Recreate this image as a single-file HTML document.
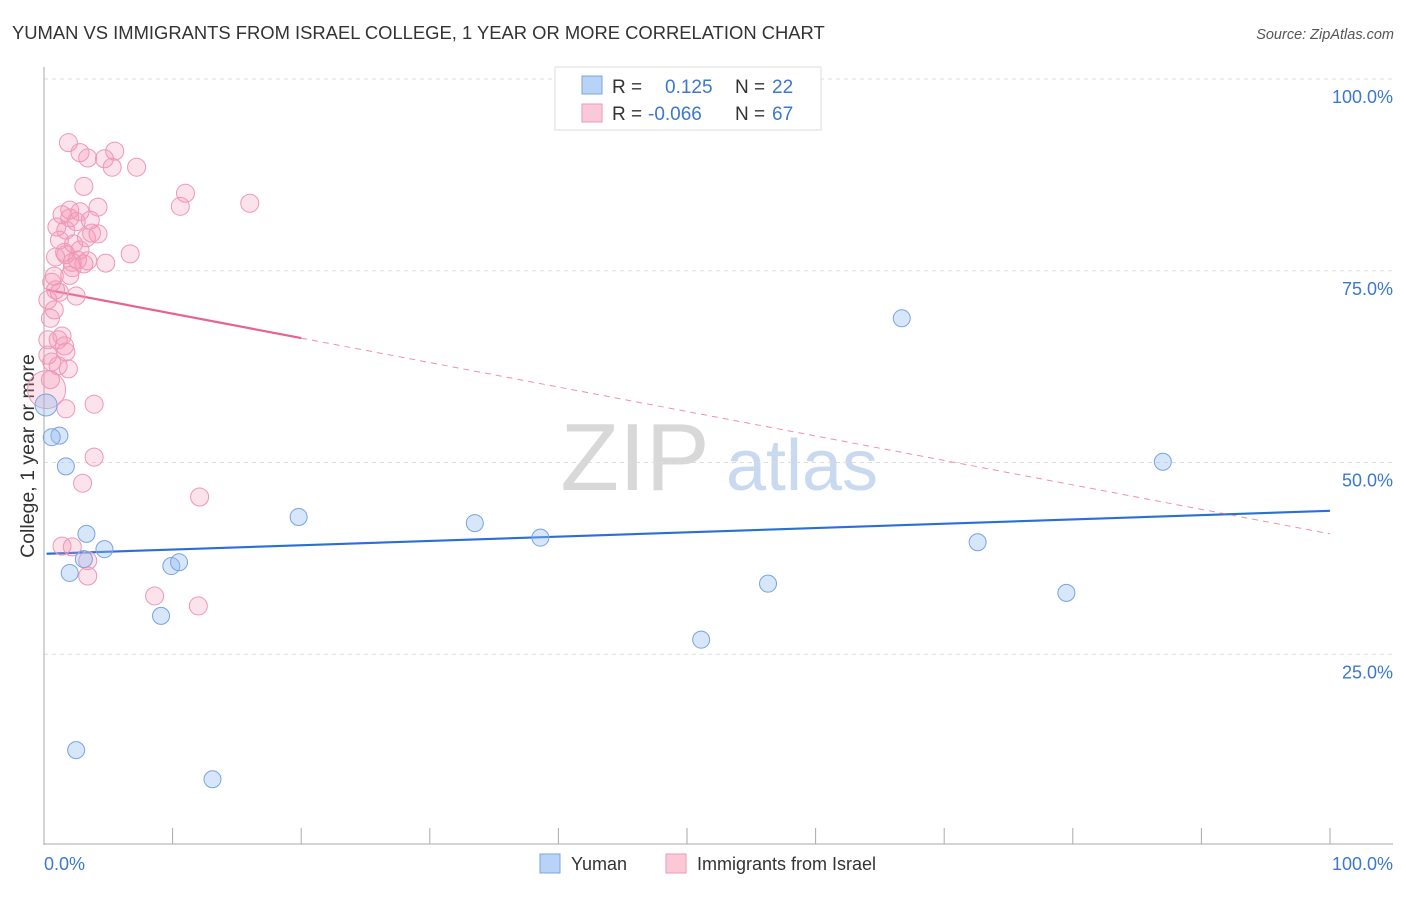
<!DOCTYPE html>
<html><head><meta charset="utf-8"><style>
body{margin:0;background:#fff;font-family:"Liberation Sans",sans-serif;}
svg text{font-family:"Liberation Sans",sans-serif;}
</style></head><body>
<svg id="c" width="1406" height="892">
<text x="12" y="39" font-size="18.4" fill="#333">YUMAN VS IMMIGRANTS FROM ISRAEL COLLEGE, 1 YEAR OR MORE CORRELATION CHART</text>
<text x="1394" y="39" font-size="14.5" fill="#555" font-style="italic" text-anchor="end">Source: ZipAtlas.com</text>
<text x="0" y="0" transform="translate(34,456) rotate(-90)" font-size="19.5" fill="#333" text-anchor="middle">College, 1 year or more</text>
<g><text x="635" y="490" font-size="96" font-family="Liberation Serif,serif" fill="#d8d8d8" text-anchor="middle">ZIP</text><text x="802" y="490" font-size="72" fill="#c9daf0" text-anchor="middle">atlas</text></g>
<g id="grid"></g><g id="axes"></g><g id="trends"></g><g id="pts"></g>
<g>
<rect x="555" y="67" width="266" height="63" fill="#fff" stroke="#ddd"/>
<rect x="582" y="76" width="20" height="18" fill="#b8d3f5" stroke="#7aa6e2"/>
<text x="612" y="93" font-size="19" fill="#333">R =</text><text x="665" y="93" font-size="19" fill="#3b78d0">0.125</text>
<text x="735" y="93" font-size="19" fill="#333">N =</text><text x="772" y="93" font-size="19" fill="#3b78d0">22</text>
<rect x="582" y="104" width="20" height="18" fill="#fbc8d8" stroke="#ee9ab6"/>
<text x="612" y="120" font-size="19" fill="#333">R =</text><text x="648" y="120" font-size="19" fill="#3b78d0">-0.066</text>
<text x="735" y="120" font-size="19" fill="#333">N =</text><text x="772" y="120" font-size="19" fill="#3b78d0">67</text>
</g>
<g>
<rect x="540" y="854" width="20" height="19" fill="#b8d3f5" stroke="#7aa6e2"/>
<text x="571" y="870" font-size="18" fill="#333">Yuman</text>
<rect x="666" y="854" width="20" height="19" fill="#fbc8d8" stroke="#ee9ab6"/>
<text x="697" y="870" font-size="18" fill="#333">Immigrants from Israel</text>
</g>
<text x="44" y="870" font-size="18" fill="#3b78d0">0.0%</text>
<text x="1393" y="870" font-size="18" fill="#3b78d0" text-anchor="end">100.0%</text>
</svg>
<script>
const yTicks=[100,75,50,25];
const yTickLabels=["100.0%","75.0%","50.0%","25.0%"];
const blueX=[0.16,1.2,1.7,3.3,4.7,2.0,3.1,9.9,10.5,9.1,19.8,33.5,38.6,66.7,87.0,72.6,56.3,79.5,51.1,2.5,13.1,0.6];
const blueY=[57.5,53.5,49.5,40.7,38.7,35.6,37.4,36.5,37.0,30.0,42.9,42.1,40.2,68.8,50.1,39.6,34.2,33.0,26.9,12.5,8.7,53.3];
const pinkX=[1.9,2.8,3.4,5.5,4.7,5.3,7.2,3.1,11.0,10.6,16.0,4.2,2.8,1.4,2.0,1.0,3.7,1.2,3.3,2.3,6.7,1.6,4.8,2.6,3.4,0.9,2.2,2.0,0.6,0.9,2.5,0.3,0.5,1.1,1.6,1.7,0.3,0.6,1.9,0.2,1.7,3.9,3.9,3.0,12.1,1.4,2.2,3.4,3.4,8.6,12.0,0.8,1.7,2.2,1.2,0.5,2.5,0.8,1.4,3.1,4.2,1.1,2.8,2.0,1.7,0.3,3.6];
const pinkY=[91.7,90.4,89.7,90.6,89.6,88.5,88.5,86.0,85.1,83.4,83.8,83.3,82.7,82.3,81.9,80.7,79.9,79.0,79.3,78.5,77.2,77.4,76.0,76.4,76.3,76.8,75.4,74.4,73.5,72.5,71.7,71.2,68.8,66.0,65.2,64.4,64.0,63.1,62.2,59.5,57.0,57.6,50.7,47.3,45.5,39.1,39.0,35.2,37.2,32.6,31.3,69.9,80.3,76.1,72.2,60.8,81.4,74.3,66.5,75.9,79.8,62.6,77.7,82.9,77.1,66.0,81.6];
const blueTrend=[38.1,43.7];
const pinkTrend=[72.6,40.7];
const pinkSolidEnd=20;
const NS="http://www.w3.org/2000/svg";
const X=v=>44+v*12.86, Y=v=>846-v*7.67;
function mk(p,t,a){const e=document.createElementNS(NS,t);for(const k in a)e.setAttribute(k,a[k]);p.appendChild(e);return e;}
const grid=document.getElementById('grid'),axes=document.getElementById('axes'),tr=document.getElementById('trends'),pts=document.getElementById('pts');
yTicks.forEach((t,i)=>{
 const l=mk(grid,'line',{x1:44,x2:1393,y1:Y(t),y2:Y(t),stroke:'#ddd','stroke-dasharray':'4,4'});
 
 
 const tx=mk(grid,'text',{x:1393,y:Y(t)+24,'font-size':18,fill:'#3b78d0','text-anchor':'end'});
 tx.textContent=yTickLabels[i];
 
 
});
let a=mk(axes,'line',{x1:44,x2:44,y1:67,y2:845,stroke:'#aaa'});


a=mk(axes,'line',{x1:44,x2:1393,y1:844,y2:844,stroke:'#aaa'});


for(let i=0;i<=10;i++){const t=mk(axes,'line',{x1:X(i*10),x2:X(i*10),y1:828,y2:844,stroke:'#aaa'});
 
 }
let l=mk(tr,'line',{x1:X(0.2),x2:X(100),y1:Y(blueTrend[0]),y2:Y(blueTrend[1]),stroke:'#2a6fd6','stroke-width':2.2});


const py=v=>pinkTrend[0]+(pinkTrend[1]-pinkTrend[0])*v/100;
l=mk(tr,'line',{x1:X(0.2),x2:X(pinkSolidEnd),y1:Y(py(0.2)),y2:Y(py(pinkSolidEnd)),stroke:'#e8628e','stroke-width':2.2});


l=mk(tr,'line',{x1:X(pinkSolidEnd),x2:X(100),y1:Y(py(pinkSolidEnd)),y2:Y(py(100)),stroke:'#e8628e','stroke-width':1,'stroke-dasharray':'6,5',opacity:0.7});


pinkX.forEach((x,i)=>{const c=mk(pts,'circle',{cx:X(x),cy:Y(pinkY[i]),r:(i==39?19:9),fill:'rgba(246,150,182,0.28)',stroke:'#ef97b5','stroke-width':1});
 
 });
blueX.forEach((x,i)=>{const c=mk(pts,'circle',{cx:X(x),cy:Y(blueY[i]),r:(i==0?11:8.5),fill:'rgba(150,190,240,0.38)',stroke:'#77a4e2','stroke-width':1});
 
 });
</script>
</body></html>
